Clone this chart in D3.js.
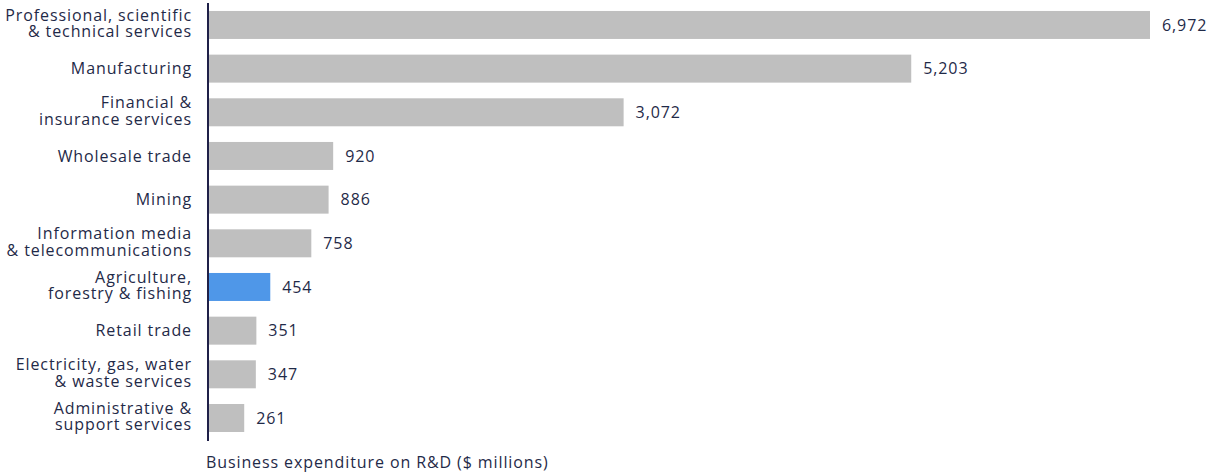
<!DOCTYPE html>
<html>
<head>
<meta charset="utf-8">
<script src="https://cdn.jsdelivr.net/npm/d3@7"></script>
<style>
  html, body { margin: 0; padding: 0; background: #ffffff; }
  svg text { font-family: "Open Sans", "Noto Sans", sans-serif; fill: #1f2a48; letter-spacing: 0.9px; }
</style>
</head>
<body>
<svg id="chart" width="1213" height="472"></svg>
<script>
// Industry categories (label lines) and R&D expenditure in $ millions
const categories = [
  ["Professional, scientific", "& technical services"],
  ["Manufacturing"],
  ["Financial &", "insurance services"],
  ["Wholesale trade"],
  ["Mining"],
  ["Information media", "& telecommunications"],
  ["Agriculture,", "forestry & fishing"],
  ["Retail trade"],
  ["Electricity, gas, water", "& waste services"],
  ["Administrative &", "support services"]
];
const values = [6972, 5203, 3072, 920, 886, 758, 454, 351, 347, 261];
const highlighted = ["Agriculture,", "forestry & fishing"].join(" ");
const axisTitle = "Business expenditure on R&D ($ millions)";

const svg = d3.select("#chart");
const plotLeft = 209, plotTop = 3.1, step = 43.67;

const keys = categories.map(c => c.join(" "));
const data = keys.map((k, i) => ({ key: k, lines: categories[i], value: values[i] }));

const x = d3.scaleLinear().domain([0, 6972]).range([plotLeft, 1150]);
const y = d3.scaleBand().domain(keys)
  .range([plotTop, plotTop + step * (keys.length - 0.359 + 0.36)])
  .paddingInner(0.359).paddingOuter(0.18);

// Bars
svg.append("g").selectAll("rect").data(data).join("rect")
  .attr("x", x(0))
  .attr("y", d => y(d.key))
  .attr("width", d => x(d.value) - x(0))
  .attr("height", y.bandwidth())
  .attr("fill", d => d.key === highlighted ? "#4f97e8" : "#bfbfbf");

// Value labels
svg.append("g").selectAll("text").data(data).join("text")
  .attr("x", d => x(d.value) + 12)
  .attr("y", d => y(d.key) + y.bandwidth() / 2)
  .attr("dy", "0.35em")
  .attr("font-size", 16)
  .text(d => d3.format(",")(d.value));

// Category labels, right aligned against the axis
const lab = svg.append("g").selectAll("text").data(data).join("text")
  .attr("text-anchor", "end")
  .attr("font-size", 16)
  .attr("x", 192)
  .attr("y", d => y(d.key) + y.bandwidth() / 2);
lab.selectAll("tspan").data(d => d.lines.map((t, j) => ({ t, j, n: d.lines.length }))).join("tspan")
  .attr("x", 192)
  .attr("dy", (s) => s.j === 0 ? `${0.35 - (s.n - 1) * 0.6}em` : "1.03em")
  .text(s => s.t);

// Vertical axis line
svg.append("line")
  .attr("x1", 208).attr("x2", 208)
  .attr("y1", 3).attr("y2", 441)
  .attr("stroke", "#1f2048").attr("stroke-width", 2);

// Axis title
svg.append("text")
  .attr("x", 206)
  .attr("y", 468)
  .attr("font-size", 16)
  .text(axisTitle);
</script>
</body>
</html>
